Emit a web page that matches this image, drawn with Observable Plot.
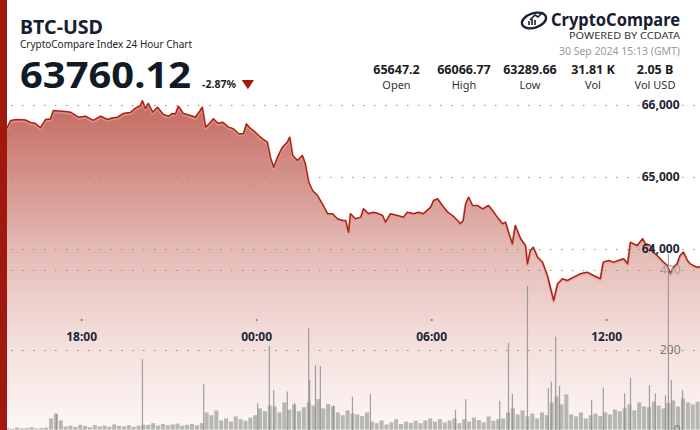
<!DOCTYPE html>
<html><head><meta charset="utf-8">
<script src="https://cdn.jsdelivr.net/npm/d3@7"></script>
<script src="https://cdn.jsdelivr.net/npm/@observablehq/plot@0.6"></script>
<style>
body{margin:0;background:#fff;font-family:"Noto Sans",sans-serif;}
#wrap{position:relative;width:700px;height:430px;overflow:hidden;background:#fff;}
#wrap > svg{position:absolute;left:0;top:0;}
#redbar{position:absolute;left:0;top:0;width:7px;height:430px;background:#a1190e;}
</style></head><body>
<div id="wrap"></div>
<script>
// ---------- data ----------
const symbol = "BTC-USD";
const subtitle = "CryptoCompare Index 24 Hour Chart";
const lastPrice = "63760.12";
const change = "-2.87%";
const statValues = ["65647.2", "66066.77", "63289.66", "31.81 K", "2.05 B"];
const statLabels = ["Open", "High", "Low", "Vol", "Vol USD"];
const stamp = "30 Sep 2024 15:13 (GMT)";
const startTime = "2024-09-29T15:13:00Z";
const endTime = "2024-09-30T15:13:00Z";

const priceTimes = ["29T15:13","29T15:27","29T15:34","29T15:48","29T16:04","29T16:15","29T16:25","29T16:35","29T16:46","29T16:56",
"29T17:02","29T17:12","29T17:27","29T17:37","29T17:53","29T18:08","29T18:24","29T18:39","29T18:53","29T19:03",
"29T19:14","29T19:26","29T19:40","29T19:51","29T20:01","29T20:05","29T20:11","29T20:17","29T20:26","29T20:36",
"29T20:48","29T20:59","29T21:07","29T21:13","29T21:19","29T21:29","29T21:44","29T21:54","29T22:04","29T22:08",
"29T22:15","29T22:23","29T22:31","29T22:41","29T22:50","29T23:02","29T23:12","29T23:23","29T23:33","29T23:39",
"29T23:47","29T23:53","30T00:04","30T00:12","30T00:22","30T00:28","30T00:35","30T00:43","30T00:53","30T01:03",
"30T01:08","30T01:14","30T01:24","30T01:34","30T01:40","30T01:47","30T01:55","30T02:05","30T02:15","30T02:26",
"30T02:36","30T02:46","30T02:57","30T03:03","30T03:09","30T03:13","30T03:23","30T03:34","30T03:40","30T03:50",
"30T04:00","30T04:11","30T04:19","30T04:25","30T04:35","30T04:50","30T05:02","30T05:10","30T05:23","30T05:33",
"30T05:43","30T05:58","30T06:04","30T06:12","30T06:22","30T06:33","30T06:43","30T06:53","30T06:59","30T07:05",
"30T07:10","30T07:16","30T07:24","30T07:34","30T07:45","30T07:57","30T08:05","30T08:15","30T08:26","30T08:32",
"30T08:38","30T08:46","30T08:52","30T09:03","30T09:13","30T09:17","30T09:23","30T09:29","30T09:38","30T09:48",
"30T09:58","30T10:04","30T10:11","30T10:19","30T10:29","30T10:39","30T10:52","30T11:06","30T11:20","30T11:33",
"30T11:47","30T11:53","30T12:04","30T12:14","30T12:24","30T12:35","30T12:43","30T12:49","30T12:55","30T13:03",
"30T13:14","30T13:20","30T13:30","30T13:36","30T13:44","30T13:57","30T14:05","30T14:11","30T14:17","30T14:25",
"30T14:31","30T14:38","30T14:46","30T14:52","30T14:58","30T15:06","30T15:13"];
const priceValues = [65647,65694,65792,65806,65799,65764,65750,65690,65806,65812,
65931,65924,65917,65907,65837,65851,65792,65851,65806,65826,
65837,65889,65903,65963,66000,66067,65958,66028,65907,65976,
65875,65851,65889,65882,65990,65889,65861,65837,65931,65976,
65699,65750,65815,65750,65768,65699,65676,65607,65607,65743,
65681,65653,65583,65537,65490,65282,65143,65282,65421,65490,
65560,65306,65236,65306,65190,64935,64819,64750,64635,64496,
64496,64426,64403,64403,64240,64496,64426,64449,64565,64496,
64518,64496,64472,64379,64496,64472,64449,64518,64496,64518,
64496,64588,64681,64704,64611,64518,64472,64403,64357,64403,
64635,64726,64611,64611,64565,64611,64542,64449,64357,64379,
64240,64079,64333,64149,64056,63801,63986,64032,63893,63824,
63639,63476,63290,63524,63593,63569,63615,63662,63685,63639,
63593,63824,63847,63824,63847,63871,63801,64101,64079,64056,
64149,64079,64056,63963,63917,63824,63778,63662,63754,63801,
63917,63963,63847,63801,63778,63754,63760];

// volume per 10-minute slot from 15:13
const volumeValues = [5,6,4,7,5,6,8,5,6,7,
30,42,25,10,12,9,14,11,8,13,10,12,9,15,11,10,13,9,12,14,
14,18,12,16,13,15,17,12,14,16,13,18,
45,38,50,25,30,22,35,28,24,32,38,
55,48,62,60,45,70,52,65,48,58,
70,62,78,55,66,60,45,38,50,42,
40,36,45,22,18,25,15,20,28,16,22,19,24,18,
25,30,22,28,20,25,30,18,28,22,32,26,20,35,24,28,30,
45,55,40,50,35,42,30,45,38,70,85,65,90,
40,35,45,30,38,42,36,45,40,52,48,
55,65,50,70,60,58,72,62,55,68,75,60,80,70,65,72];
const spikeTimes = ["29T17:08","29T20:05","29T22:11","30T00:02","30T00:26","30T00:35","30T01:03","30T01:18","30T01:47","30T01:49",
"30T02:01","30T02:11","30T02:38","30T03:17","30T03:54","30T06:49","30T07:10","30T08:20","30T08:38","30T08:46",
"30T09:17","30T10:00","30T10:06","30T10:15","30T10:23","30T11:29","30T11:53","30T12:37","30T12:49","30T13:28",
"30T13:40","30T14:01","30T14:07","30T14:13","30T14:36"];
const spikeValues = [40,177,115,67,210,100,96,67,255,125,
162,160,62,83,90,50,77,73,218,90,
360,105,121,233,110,75,106,92,130,112,
92,87,440,125,100];

const priceTicks = [64000, 65000, 66000];
const volumeTicks = [200, 400];
const timeTicks = ["29T18:00", "30T00:00", "30T06:00", "30T12:00"];
const timeTickLabels = ["18:00", "00:00", "06:00", "12:00"];

// ---------- build ----------
const toDate = s => new Date("2024-09-" + s + ":00Z");
const t0 = new Date(startTime), t1 = new Date(endTime);
const price = priceTimes.map((s, i) => ({t: toDate(s), p: priceValues[i]}));
const vols = volumeValues.map((v, i) => ({a: new Date(+t0 + i * 600000), b: new Date(+t0 + (i + 1) * 600000), v}));
const spikes = spikeTimes.map((s, i) => ({t: toDate(s), v: spikeValues[i]}));
const ticks = timeTicks.map((s, i) => ({t: toDate(s), label: timeTickLabels[i]}));

const W = 700, H = 430;
const pDomain = [61486, 67458];
const pPix = d3.scaleLinear().domain([H, 0]).range(pDomain); // pixel -> price (for small decorations)
const font = "'Noto Sans', sans-serif";

const gradient = () => {
  const svg = d3.create("svg:g");
  const g = svg.append("defs").append("linearGradient")
    .attr("id", "priceGrad").attr("gradientUnits", "userSpaceOnUse")
    .attr("x1", 0).attr("y1", 100).attr("x2", 0).attr("y2", 430);
  [[0, "#c4695f"], [0.25, "#d4958d"], [0.45, "#e4bab5"], [0.7, "#f2dbd8"], [1, "#fdf7f6"]]
    .forEach(([o, c]) => g.append("stop").attr("offset", o).attr("stop-color", c));
  return svg.node();
};

const pricePlot = Plot.plot({
  width: W, height: H, margin: 0,
  style: {fontFamily: font, background: "transparent", overflow: "visible"},
  x: {type: "utc", domain: [t0, t1], axis: null},
  y: {domain: pDomain, axis: null},
  marks: [
    gradient,
    Plot.areaY(price, {x: "t", y1: pDomain[0], y2: "p", fill: "url(#priceGrad)"}),
    Plot.lineY(price, {x: "t", y: "p", stroke: "#e2a49c", strokeWidth: 3, strokeOpacity: 0.6, dy: 1}),
    Plot.lineY(price, {x: "t", y: "p", stroke: "#ab2316", strokeWidth: 1.5}),
    Plot.ruleY(priceTicks, {stroke: "#8e8e8e", strokeWidth: 1, strokeDasharray: "1.5 9.5"}),
    Plot.text(priceTicks, {x: t1, y: d => d, text: d => d3.format(",")(d), textAnchor: "end", dx: -21,
      fontSize: 12, fontWeight: 700, fill: "#1b2533"}),
    Plot.ruleX(ticks, {x: "t", y1: pPix(319.5), y2: pPix(320.5), stroke: "#333", strokeWidth: 2}),
    Plot.text(ticks, {x: "t", y: pPix(337), text: "label", fontSize: 12, fontWeight: 700, fill: "#1b2533"})
  ]
});

const volPlot = Plot.plot({
  width: W, height: H, margin: 0,
  style: {fontFamily: font, background: "transparent", overflow: "visible"},
  x: {type: "utc", domain: [t0, t1], axis: null},
  y: {domain: [0, 1075], axis: null},
  marks: [
    Plot.ruleY(volumeTicks, {stroke: "#8e8e8e", strokeWidth: 1, strokeDasharray: "1.5 9.5"}),
    Plot.text(volumeTicks, {x: t1, y: d => d, text: d => String(d), textAnchor: "end", dx: -20,
      fontSize: 12, fill: d => d === 400 ? "#b19a97" : "#7a7a7a"}),
    Plot.rectY(vols, {x1: "a", x2: "b", y1: 0, y2: "v", fill: "#8c918a", fillOpacity: 0.62, inset: 0.4}),
    Plot.ruleX(spikes, {x: "t", y1: 0, y2: "v", stroke: "#8f8f8f", strokeWidth: 1.2, strokeOpacity: 0.85}),
    Plot.text([0], {x: t1, y: 0, text: d => String(d), textAnchor: "end", dx: -20, fontSize: 12, fill: "#7a7a7a"})
  ]
});

const wrap = document.getElementById("wrap");
wrap.appendChild(pricePlot);
wrap.appendChild(volPlot);

// header (real text)
const hdr = d3.select(wrap).append("svg").attr("width", W).attr("height", 100)
  .style("font-family", font);
hdr.append("text").attr("x", 20).attr("y", 34).attr("font-size", 20).attr("font-weight", 700)
  .attr("fill", "#17202e").attr("textLength", 83).attr("lengthAdjust", "spacingAndGlyphs").text(symbol);
hdr.append("text").attr("x", 20).attr("y", 48).attr("font-size", 10.5).attr("fill", "#222")
  .attr("textLength", 172).attr("lengthAdjust", "spacingAndGlyphs").text(subtitle);
hdr.append("text").attr("x", 20).attr("y", 87.5).attr("font-size", 36).attr("font-weight", 700)
  .attr("fill", "#111a27").attr("textLength", 171).attr("lengthAdjust", "spacingAndGlyphs").text(lastPrice);
hdr.append("text").attr("x", 202).attr("y", 87.5).attr("font-size", 10.5).attr("font-weight", 700)
  .attr("fill", "#1f1f1f").attr("textLength", 34).attr("lengthAdjust", "spacingAndGlyphs").text(change);
hdr.append("path").attr("d", "M241.7,80 L254,80 L247.9,89.3 Z").attr("fill", "#a3190f");

// logo
const logo = hdr.append("g");
logo.append("ellipse").attr("cx", 534).attr("cy", 20.5).attr("rx", 12.5).attr("ry", 7.2)
  .attr("transform", "rotate(-18 534 20.5)").attr("fill", "none").attr("stroke", "#17202e").attr("stroke-width", 2.3);
logo.append("path").attr("d", "M529,25 v-4 M532,25 v-6 M535,25 v-5 M530,20 l5,-5 l3,2 l5,-5")
  .attr("fill", "none").attr("stroke", "#17202e").attr("stroke-width", 1.6);
hdr.append("text").attr("x", 680).attr("y", 25.5).attr("text-anchor", "end").attr("font-size", 17.5)
  .attr("font-weight", 700).attr("fill", "#17202e").attr("textLength", 129).attr("lengthAdjust", "spacingAndGlyphs")
  .text("CryptoCompare");
hdr.append("text").attr("x", 680).attr("y", 38.5).attr("text-anchor", "end").attr("font-size", 9)
  .attr("fill", "#333").attr("textLength", 111).attr("lengthAdjust", "spacingAndGlyphs").text("POWERED BY CCDATA");
hdr.append("text").attr("x", 680).attr("y", 54.5).attr("text-anchor", "end").attr("font-size", 11)
  .attr("fill", "#9a9a9a").attr("textLength", 121).attr("lengthAdjust", "spacingAndGlyphs").text(stamp);

const centers = [396.5, 464, 530, 593, 655];
statValues.forEach((v, i) => {
  hdr.append("text").attr("x", centers[i]).attr("y", 74).attr("text-anchor", "middle")
    .attr("font-size", 12.5).attr("font-weight", 700).attr("fill", "#1b1b1b").text(v);
  hdr.append("text").attr("x", centers[i]).attr("y", 88.5).attr("text-anchor", "middle")
    .attr("font-size", 11).attr("fill", "#333").text(statLabels[i]);
});

const bar = document.createElement("div");
bar.id = "redbar";
wrap.appendChild(bar);
</script>
</body></html>
